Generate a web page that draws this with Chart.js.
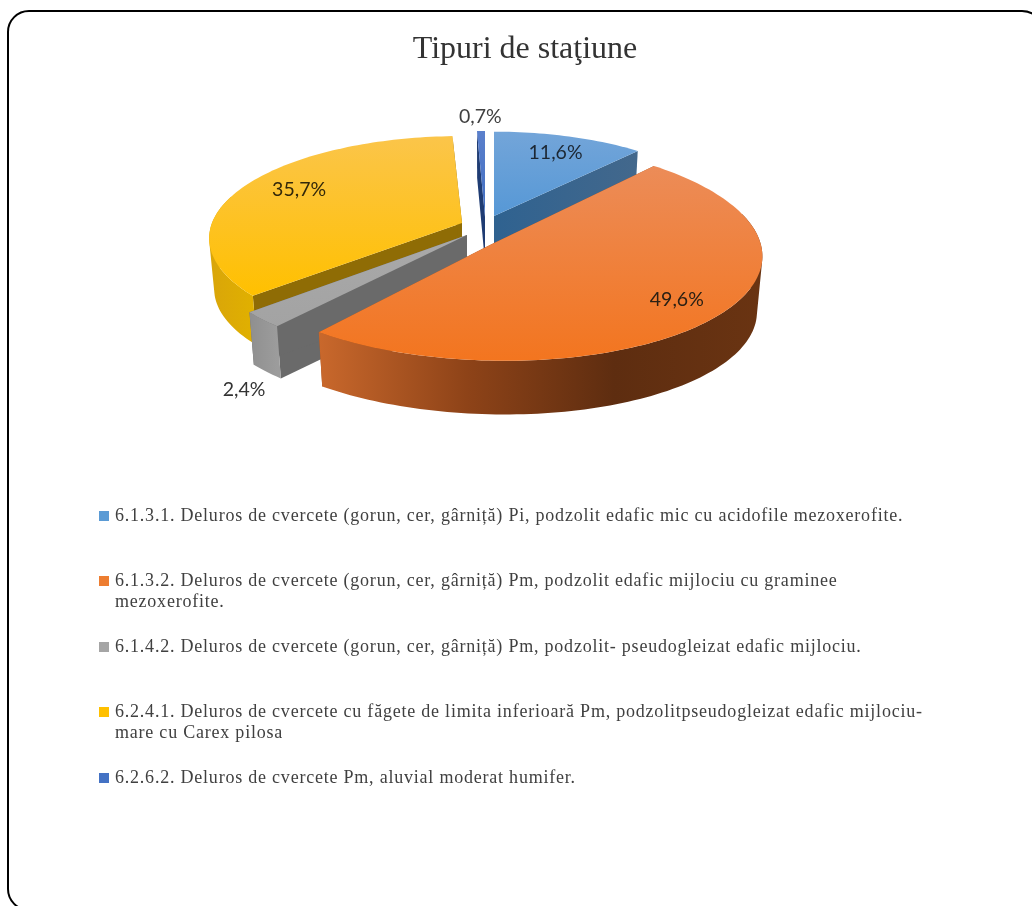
<!DOCTYPE html>
<html lang="ro">
<head>
<meta charset="utf-8">
<title>Tipuri de staţiune</title>
<script src="https://cdn.jsdelivr.net/npm/chart.js@4/dist/chart.umd.min.js"></script>
<style>
  html, body { margin: 0; padding: 0; background: #fff; overflow: hidden; }
  #page { position: relative; width: 1032px; height: 906px; overflow: hidden; }
  #frame { position: absolute; left: 7px; top: 10px; width: 1037px; height: 901px; box-sizing: border-box;
           border: 2px solid #000; border-radius: 22px; }
  #wheel { position: absolute; left: 0; top: 0; }
  .item { position: absolute; left: 115px; width: 830px; font: 18px/21px "Liberation Serif", serif;
          letter-spacing: 0.78px; color: #404040; }
  .item i { position: absolute; left: -16px; top: 6px; width: 10px; height: 10px; }
</style>
</head>
<body>
<div id="page">
  <div id="frame"></div>
  <canvas id="wheel" width="1032" height="906"></canvas>
  <div id="legend"></div>
</div>
<script>
const categories = [
  "6.1.3.1. Deluros de cvercete (gorun, cer, gârniță) Pi, podzolit edafic mic cu acidofile mezoxerofite.",
  "6.1.3.2. Deluros de cvercete (gorun, cer, gârniță) Pm, podzolit edafic mijlociu cu graminee mezoxerofite.",
  "6.1.4.2. Deluros de cvercete (gorun, cer, gârniță) Pm, podzolit- pseudogleizat edafic mijlociu.",
  "6.2.4.1. Deluros de cvercete cu făgete de limita inferioară Pm, podzolitpseudogleizat edafic mijlociu-mare cu Carex pilosa",
  "6.2.6.2. Deluros de cvercete Pm, aluvial moderat humifer.",
];
const values = [11.6, 49.6, 2.4, 35.7, 0.7];
const legendColors = ["#5b9bd5", "#ed7d31", "#a5a5a5", "#ffc000", "#4472c4"];

// legend row tops
const legendTops = [505, 570, 636, 701, 767];

// how each exploded slice is projected: apex on screen, half axes, perspective, shear
const sliceViews = [
  { x: 494, y: 216, a: 240, b: 97, q: 0.15, s: 0, depth: 50 },
  { x: 490, y: 245, a: 271, b: 110, q: 0.05, s: -14, depth: 56 },
  { x: 467, y: 235, a: 260, b: 106, q: 0.15, s: 0, depth: 54 },
  { x: 462, y: 223, a: 250, b: 100, q: 0.15, s: 0, depth: 51 },
  { x: 485, y: 217, a: 210, b: 99, q: 0.15, s: 0, depth: 45 },
];
// far slices first
const drawOrder = [4, 0, 3, 2, 1];
const topColors = [
  ["#73a5d9", "#5698d6"],
  ["#ec8c58", "#f3751f"],
  ["#a9a9a9", "#a3a3a3"],
  ["#fbc54a", "#ffc000"],
  ["#5b80cc", "#3f6cc0"],
];
const wallColors = [
  ["#2f6290", "#43688c"],
  ["#c9682c", "#8e4318", "#5e2d10", "#6a3412"],
  ["#8f8f8f", "#9c9c9c"],
  ["#d9a50a", "#e0b000"],
  ["#1f3c73", "#1f3c73"],
];
const cutColors = ["#38648f", "#9a4d1c", "#6a6a6a", "#8f6c05", "#1f3c73"];
// label distance from the apex along the middle of the slice, then a small drop in px
const labelRadius = [0.8, 0.85, 1.08, 0.74, 1.22];
const labelDrop = [2, -8, 63, -5, 2];
const labelColors = ["#1c2733", "#2b2014", "#333333", "#33280a", "#404040"];

function project(view, angle, r, down) {
  // chart.js angles start at 3 o'clock, the view wants them from the top
  const u = r * Math.cos(angle);
  const v = -r * Math.sin(angle);
  const w = 1 + view.q * v;
  let px = (view.a * u + view.s * v) / w;
  let py = (-view.b * v) / w;
  if (down) {
    px *= 0.98;
    py = py * 0.98 + view.depth;
  }
  return [view.x + px, view.y + py];
}

function addPolygon(ctx, points) {
  points.forEach((p, i) => (i ? ctx.lineTo(p[0], p[1]) : ctx.moveTo(p[0], p[1])));
  ctx.closePath();
}

function tracePath(ctx, points) {
  ctx.beginPath();
  addPolygon(ctx, points);
}

function linear(ctx, x0, y0, x1, y1, colors) {
  const g = ctx.createLinearGradient(x0, y0, x1, y1);
  colors.forEach((c, i) => g.addColorStop(i / (colors.length - 1), c));
  return g;
}

function arcAngles(arc) {
  const n = Math.max(2, Math.ceil((arc.endAngle - arc.startAngle) * 40));
  const list = [];
  for (let i = 0; i <= n; i++) list.push(arc.startAngle + ((arc.endAngle - arc.startAngle) * i) / n);
  return list;
}

function signedArea(points) {
  let sum = 0;
  points.forEach((p, i) => {
    const q = points[(i + 1) % points.length];
    sum += p[0] * q[1] - q[0] * p[1];
  });
  return sum;
}

function drawSlice(ctx, arc, i) {
  const view = sliceViews[i];
  const angles = arcAngles(arc);
  const rim = angles.map((a) => project(view, a, 1, false));
  const apex = [view.x, view.y];
  const apexDown = project(view, 0, 0, true);

  // the two cut faces
  [arc.startAngle, arc.endAngle].forEach((a) => {
    tracePath(ctx, [apex, project(view, a, 1, false), project(view, a, 1, true), apexDown]);
    ctx.fillStyle = i === 0 ? linear(ctx, view.x, 0, project(view, a, 1, false)[0], 0, wallColors[0]) : cutColors[i];
    ctx.fill();
  });

  // outer wall, only the part turned to the viewer
  // strips go in one path with the same winding, so the silhouette is whole and has no seams
  const near = angles.filter((a) => -Math.sin(a) < 0.3);
  if (near.length > 1) {
    const xs = near.map((a) => project(view, a, 1, false)[0]);
    ctx.beginPath();
    for (let k = 0; k < near.length - 1; k++) {
      const strip = [
        project(view, near[k], 1, false),
        project(view, near[k + 1], 1, false),
        project(view, near[k + 1], 1, true),
        project(view, near[k], 1, true),
      ];
      addPolygon(ctx, signedArea(strip) < 0 ? strip.reverse() : strip);
    }
    ctx.fillStyle = linear(ctx, Math.min(...xs), 0, Math.max(...xs), 0, wallColors[i]);
    ctx.fill();
  }

  // top face
  const ys = rim.map((p) => p[1]).concat(view.y);
  tracePath(ctx, [apex].concat(rim));
  ctx.fillStyle = linear(ctx, 0, Math.min(...ys), 0, Math.max(...ys), topColors[i]);
  ctx.fill();
}

const pie3d = {
  id: "pie3d",
  beforeDatasetDraw(chart) {
    const ctx = chart.ctx;
    const arcs = chart.getDatasetMeta(0).data;
    drawOrder.forEach((i) => drawSlice(ctx, arcs[i], i));
    return false;
  },
  afterDraw(chart) {
    const ctx = chart.ctx;
    const arcs = chart.getDatasetMeta(0).data;
    ctx.save();
    ctx.font = '19.5px Lato, sans-serif';
    ctx.textAlign = "center";
    ctx.textBaseline = "middle";
    arcs.forEach((arc, i) => {
      const mid = (arc.startAngle + arc.endAngle) / 2;
      const p = project(sliceViews[i], mid, labelRadius[i], false);
      ctx.fillStyle = labelColors[i];
      ctx.fillText(values[i].toFixed(1).replace(".", ",") + "%", p[0], p[1] + labelDrop[i]);
    });
    ctx.restore();
  },
};

const wheel = document.getElementById("wheel");
new Chart(wheel, {
  type: "pie",
  plugins: [pie3d],
  data: {
    labels: categories,
    datasets: [{ data: values, backgroundColor: legendColors, borderWidth: 0 }],
  },
  options: {
    responsive: false,
    animation: false,
    layout: { padding: { left: 18, top: 22 } },
    plugins: {
      legend: { display: false },
      tooltip: { enabled: false },
      title: {
        display: true,
        text: "Tipuri de staţiune",
        color: "#333333",
        font: { family: '"Liberation Serif", serif', size: 32, weight: "normal" },
        padding: { top: 8, bottom: 10 },
      },
    },
  },
});

// legend under the pie, long rows wrap like in the original
const legend = document.getElementById("legend");
categories.forEach((text, i) => {
  const row = document.createElement("div");
  row.className = "item";
  row.style.top = legendTops[i] + "px";
  const mark = document.createElement("i");
  mark.style.background = legendColors[i];
  row.appendChild(mark);
  row.appendChild(document.createTextNode(text));
  legend.appendChild(row);
});
</script>
</body>
</html>
